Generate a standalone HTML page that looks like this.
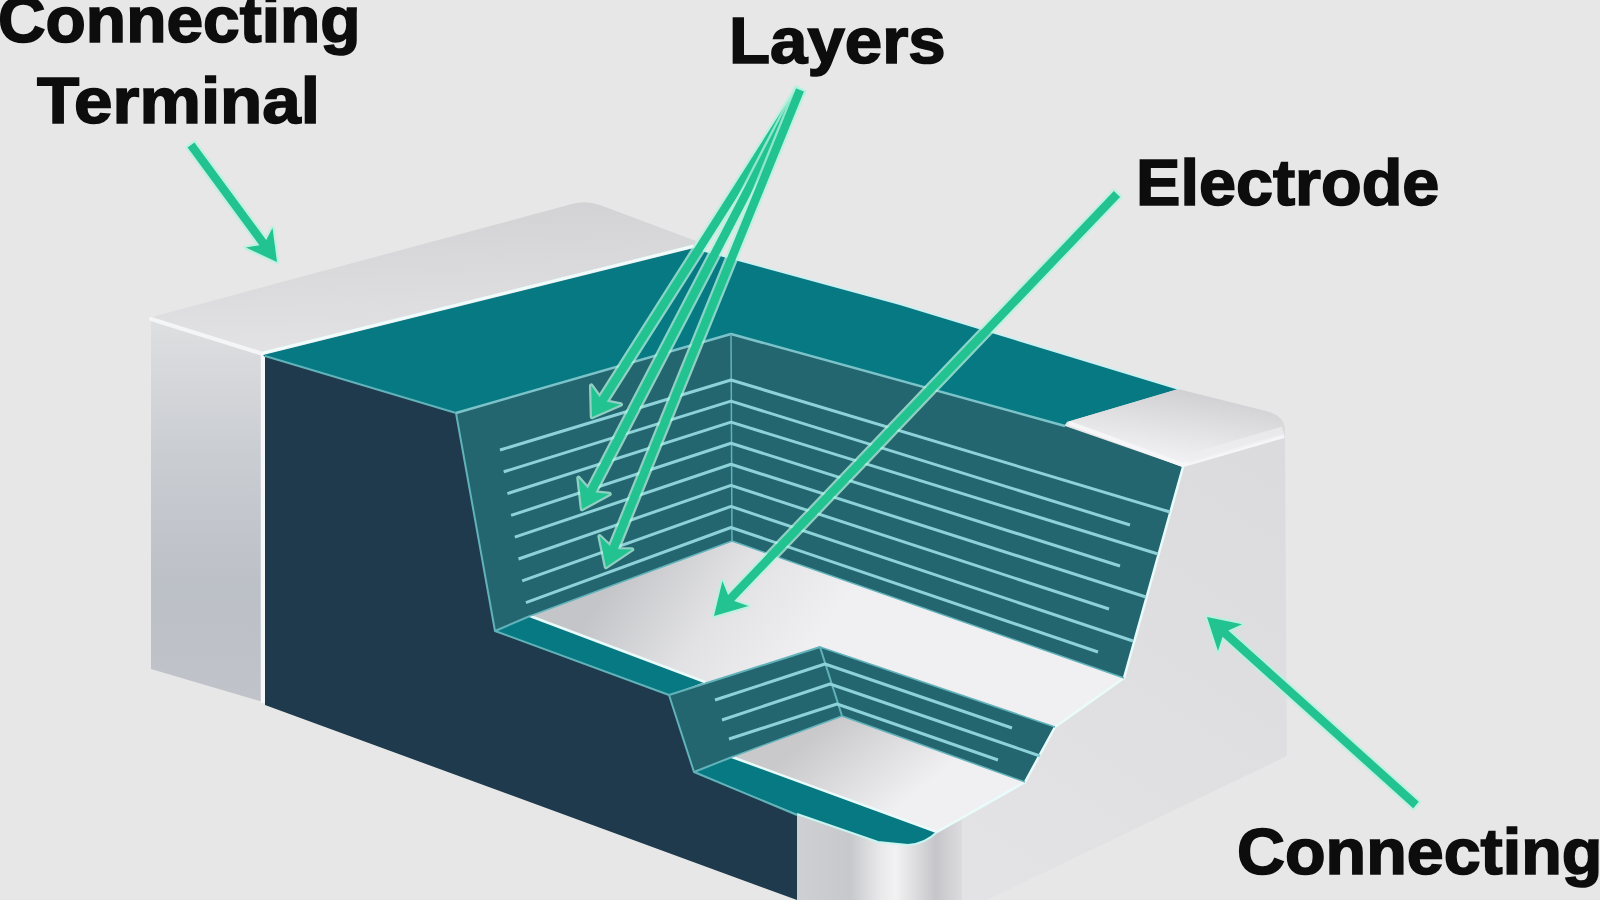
<!DOCTYPE html>
<html><head><meta charset="utf-8"><style>
html,body{margin:0;padding:0;}
body{width:1600px;height:900px;overflow:hidden;background:#e7e7e7;position:relative;font-family:"Liberation Sans",sans-serif;}
svg{position:absolute;left:0;top:0;}
.t{position:absolute;font-weight:bold;color:#0d0d0d;white-space:nowrap;line-height:1;font-size:64px;transform-origin:0 0;-webkit-text-stroke:1.6px #0d0d0d;}
</style></head><body>
<svg width="1600" height="900" viewBox="0 0 1600 900"><defs>
<linearGradient id="ltTop" x1="0.3" y1="0" x2="0.4" y2="1"><stop offset="0" stop-color="#d2d2d4"/><stop offset="1" stop-color="#e3e3e5"/></linearGradient>
<linearGradient id="ltFront" x1="0" y1="0" x2="0" y2="1"><stop offset="0" stop-color="#dedfe1"/><stop offset="0.35" stop-color="#cacdd2"/><stop offset="0.7" stop-color="#bcc0c7"/><stop offset="1" stop-color="#c0c3c9"/></linearGradient>
<linearGradient id="tread" gradientUnits="userSpaceOnUse" x1="610" y1="585" x2="780" y2="700"><stop offset="0" stop-color="#c4c5c8"/><stop offset="0.5" stop-color="#e2e2e5"/><stop offset="1" stop-color="#f0f0f3"/></linearGradient>
<linearGradient id="tread2" gradientUnits="userSpaceOnUse" x1="820" y1="730" x2="890" y2="815"><stop offset="0" stop-color="#c9c9cc"/><stop offset="1" stop-color="#f0f0f3"/></linearGradient>
<linearGradient id="rtTop" gradientUnits="userSpaceOnUse" x1="1200" y1="392" x2="1190" y2="460"><stop offset="0" stop-color="#d0d0d3"/><stop offset="0.6" stop-color="#e3e3e5"/><stop offset="1" stop-color="#f0f0f2"/></linearGradient>
<linearGradient id="rtFront" gradientUnits="userSpaceOnUse" x1="1280" y1="450" x2="1000" y2="880"><stop offset="0" stop-color="#dbdbde"/><stop offset="1" stop-color="#e3e3e5"/></linearGradient>
<linearGradient id="rtSmall" gradientUnits="userSpaceOnUse" x1="797" y1="0" x2="962" y2="0"><stop offset="0" stop-color="#cfd0d3"/><stop offset="0.32" stop-color="#c7c8cb"/><stop offset="0.5" stop-color="#e8e8ea"/><stop offset="0.6" stop-color="#f2f2f3"/><stop offset="0.72" stop-color="#dcdcde"/><stop offset="0.84" stop-color="#c6c6ca"/><stop offset="1" stop-color="#dcdcdf"/></linearGradient>
</defs>
<path d="M152,317 L572,204 Q586,200 600,205 L696,241 L694,248 L263,355 Z" fill="url(#ltTop)"/>
<polygon points="151,319 263,354 263,702 151,669" fill="url(#ltFront)"/>
<polyline points="151,319 263,354" fill="none" stroke="#f4f5f6" stroke-width="4" stroke-linecap="round"/>
<line x1="263" y1="354" x2="263" y2="703" stroke="#f7f8f9" stroke-width="4.5"/>
<polygon points="263,355 694,248 900,304 1179,389 1067,422 1060,432 731,342 456,416 265,357" fill="#077983"/>
<polygon points="265,356 456,413 495,631 669,695 694,772 797,815 797,900 265,705" fill="#1e3a4c"/>
<polygon points="456,413 731,334 732,541 530,616 495,631" fill="#236670"/>
<polygon points="731,334 1065,426 1183,467 1124,678 732,541" fill="#236670"/>
<polygon points="495,631 530,616 705,682 669,695" fill="#077983"/>
<polygon points="530,616 732,541 1124,678 1055,727 820,647 705,682" fill="url(#tread)"/>
<polygon points="669,695 820,647 842,716 732,757 694,772" fill="#236670"/>
<polygon points="820,647 1055,727 1025,782 842,716" fill="#236670"/>
<polygon points="732,757 842,716 1025,782 937,832" fill="url(#tread2)"/>
<path d="M694,772 L732,757 L937,832 Q925,844 908,845 L878,842 L797,814 Z" fill="#077983"/>
<polygon points="1183,466 1285,436 1287,756 987,900 930,900 930,860 937,832 1025,782 1055,727 1124,678" fill="url(#rtFront)"/>
<path d="M797,814 L878,842 L908,845 Q925,844 937,832 L962,818 L962,900 L797,900 Z" fill="url(#rtSmall)"/>
<path d="M797,814 L878,842 L908,845 Q925,844 937,832" fill="none" stroke="#c9f4f0" stroke-width="2"/>
<path d="M1067,422 L1178,389 L1266,411 Q1285,416 1285,430 L1285,437 L1183,467 Z" fill="url(#rtTop)"/>
<polyline points="1069,423 1183,465 1284,436" fill="none" stroke="#f6f6f8" stroke-width="4" stroke-linejoin="round"/>
<polyline points="1187,459 1283,431" fill="none" stroke="#eeeef0" stroke-width="9" opacity="0.7"/>
<polyline points="265,356 456,413 495,631 669,695 694,772 797,815" fill="none" stroke="#62b2ba" stroke-width="2" stroke-linejoin="round"/>
<polyline points="456,413 731,334 1065,426" fill="none" stroke="#7cc3c9" stroke-width="2.5" stroke-linejoin="round"/>
<polyline points="731,334 732,541" fill="none" stroke="#62b2ba" stroke-width="1.5" stroke-linejoin="round"/>
<polyline points="495,631 530,616" fill="none" stroke="#62b2ba" stroke-width="2" stroke-linejoin="round"/>
<polyline points="669,695 820,647 842,716" fill="none" stroke="#62b2ba" stroke-width="2" stroke-linejoin="round"/>
<polyline points="694,772 732,757" fill="none" stroke="#62b2ba" stroke-width="2" stroke-linejoin="round"/>
<polyline points="1183,467 1124,678 1055,727 1025,782 937,832" fill="none" stroke="#e9fbfa" stroke-width="2.5" stroke-linejoin="round"/>
<polyline points="530,616 705,682" fill="none" stroke="#e9fbfa" stroke-width="2.5" stroke-linejoin="round"/>
<polyline points="732,757 937,832" fill="none" stroke="#e9fbfa" stroke-width="2.5" stroke-linejoin="round"/>
<polyline points="530,616 732,541 1124,678" fill="none" stroke="#62b2ba" stroke-width="1.5" stroke-linejoin="round"/>
<polyline points="732,757 842,716 1025,782" fill="none" stroke="#62b2ba" stroke-width="1.5" stroke-linejoin="round"/>
<polyline points="820,647 1055,727" fill="none" stroke="#62b2ba" stroke-width="1.5" stroke-linejoin="round"/>
<polyline points="263,353 694,246" fill="none" stroke="#effcfb" stroke-width="3" stroke-linejoin="round"/>
<polyline points="694,248 900,304 1179,389" fill="none" stroke="#cfeff0" stroke-width="2" stroke-linejoin="round"/>
<polyline points="500.0,450.0 731,380.0 1170,512" fill="none" stroke="#8dd2d8" stroke-width="3" stroke-linejoin="round"/>
<polyline points="503.7,471.8 731,401.07 1130,525" fill="none" stroke="#8dd2d8" stroke-width="3" stroke-linejoin="round"/>
<polyline points="507.4,493.6 731,422.14 1158,554" fill="none" stroke="#8dd2d8" stroke-width="3" stroke-linejoin="round"/>
<polyline points="511.1,515.4 731,443.21 1120,566" fill="none" stroke="#8dd2d8" stroke-width="3" stroke-linejoin="round"/>
<polyline points="514.8,537.2 731,464.28 1146,597" fill="none" stroke="#8dd2d8" stroke-width="3" stroke-linejoin="round"/>
<polyline points="518.5,559.0 731,485.35 1109,609" fill="none" stroke="#8dd2d8" stroke-width="3" stroke-linejoin="round"/>
<polyline points="522.2,580.8 731,506.42 1133,641" fill="none" stroke="#8dd2d8" stroke-width="3" stroke-linejoin="round"/>
<polyline points="525.9,602.6 731,527.49 1098,652" fill="none" stroke="#8dd2d8" stroke-width="3" stroke-linejoin="round"/>
<polyline points="715,700 825,664 1012,728" fill="none" stroke="#8dd2d8" stroke-width="3" stroke-linejoin="round"/>
<polyline points="722,720 830,684 1040,756" fill="none" stroke="#8dd2d8" stroke-width="3" stroke-linejoin="round"/>
<polyline points="729,739 837,704 998,760" fill="none" stroke="#8dd2d8" stroke-width="3" stroke-linejoin="round"/>
<polygon points="187.6,147.5 259.4,245.2 245.9,247.6 277,262 272.5,228.1 266.2,240.1 194.4,142.5" fill="#b3f4de" stroke="#b3f4de" stroke-width="4.5" stroke-linejoin="round" opacity="0.75"/>
<polygon points="187.6,147.5 259.4,245.2 245.9,247.6 277,262 272.5,228.1 266.2,240.1 194.4,142.5" fill="#22c291"/>
<polygon points="796.4,87.7 599.6,397.2 591.2,385.7 592,417 620.7,404.5 606.7,401.7 803.6,92.3" fill="#b3f4de" stroke="#b3f4de" stroke-width="4.5" stroke-linejoin="round" opacity="0.75"/>
<polygon points="796.4,87.7 599.6,397.2 591.2,385.7 592,417 620.7,404.5 606.7,401.7 803.6,92.3" fill="#22c291"/>
<polygon points="796.2,88.0 587.8,488.6 578.5,477.9 582,509 609.5,494.0 595.4,492.5 803.8,92.0" fill="#b3f4de" stroke="#b3f4de" stroke-width="4.5" stroke-linejoin="round" opacity="0.75"/>
<polygon points="796.2,88.0 587.8,488.6 578.5,477.9 582,509 609.5,494.0 595.4,492.5 803.8,92.0" fill="#22c291"/>
<polygon points="796.1,88.4 609.9,546.1 599.6,536.3 606,567 632.0,549.5 617.8,549.3 803.9,91.6" fill="#b3f4de" stroke="#b3f4de" stroke-width="4.5" stroke-linejoin="round" opacity="0.75"/>
<polygon points="796.1,88.4 609.9,546.1 599.6,536.3 606,567 632.0,549.5 617.8,549.3 803.9,91.6" fill="#22c291"/>
<polygon points="1113.9,191.1 728.1,595.1 722.4,581.1 714,616 748.4,606.0 734.2,601.0 1120.1,196.9" fill="#b3f4de" stroke="#b3f4de" stroke-width="4.5" stroke-linejoin="round" opacity="0.75"/>
<polygon points="1113.9,191.1 728.1,595.1 722.4,581.1 714,616 748.4,606.0 734.2,601.0 1120.1,196.9" fill="#22c291"/>
<polygon points="1418.8,801.8 1228.3,630.4 1242.1,624.3 1207,617 1218.0,651.1 1222.6,636.7 1413.2,808.2" fill="#b3f4de" stroke="#b3f4de" stroke-width="4.5" stroke-linejoin="round" opacity="0.75"/>
<polygon points="1418.8,801.8 1228.3,630.4 1242.1,624.3 1207,617 1218.0,651.1 1222.6,636.7 1413.2,808.2" fill="#22c291"/>
</svg>
<div class="t" id="t1" style="left:-2px;top:-12px;transform:scaleX(1.03)">Connecting</div>
<div class="t" id="t2" style="left:37px;top:69px;transform:scaleX(1.08)">Terminal</div>
<div class="t" id="t3" style="left:729px;top:9px;transform:scaleX(1.05)">Layers</div>
<div class="t" id="t4" style="left:1136px;top:151px;transform:scaleX(1.04)">Electrode</div>
<div class="t" id="t5" style="left:1237px;top:820px;transform:scaleX(1.038)">Connecting</div>
</body></html>
